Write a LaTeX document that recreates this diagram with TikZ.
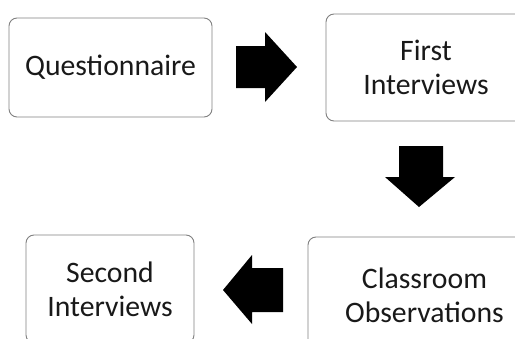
\documentclass[tikz,border=0pt]{standalone}
\usepackage{fontspec}
\setmainfont{Carlito}
\begin{document}
\begin{tikzpicture}[x=1pt,y=-1pt,
  stagebox/.style={draw=black!50, line width=0.9pt, rounded corners=8pt, fill=white,
    align=center, inner sep=0pt, text=black!90,
    font=\fontsize{29.7}{34}\selectfont},
  blockarrow/.style={fill=black, draw=none}]
\useasboundingbox (0,0) rectangle (515,338);
\clip (0,0) rectangle (515,338);
\node[stagebox, minimum width=203pt, minimum height=99pt] (q) at (110.5,67.5) {Questionnaire};
\node[stagebox, minimum width=200pt, minimum height=107pt] (fi) at (426,67.5) {First\\Interviews};
\node[stagebox, minimum width=233pt, minimum height=116pt] (co) at (424.5,295) {Classroom\\Observations};
\node[stagebox, minimum width=168pt, minimum height=108pt] (si) at (110,289) {Second\\Interviews};
\fill[blockarrow] (236,46) -- (265,46) -- (265,32) -- (297,67) -- (265,102) -- (265,88) -- (236,88) -- cycle;
\fill[blockarrow] (399,146) -- (443,146) -- (443,177) -- (455,177) -- (419,207) -- (385,177) -- (399,177) -- cycle;
\fill[blockarrow] (283,268) -- (252,268) -- (252,255) -- (223,290) -- (252,324) -- (252,312) -- (283,312) -- cycle;
\end{tikzpicture}
\end{document}
